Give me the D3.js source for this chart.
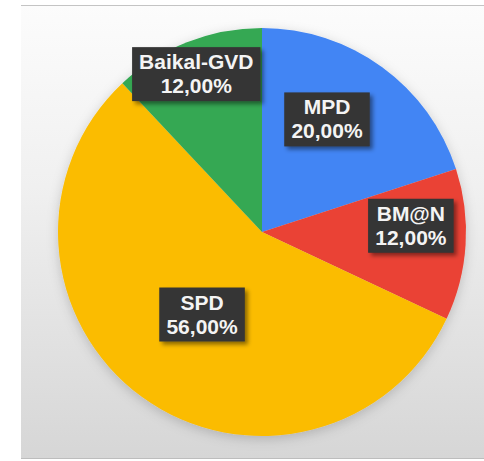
<!DOCTYPE html>
<html>
<head>
<meta charset="utf-8">
<script src="https://cdn.jsdelivr.net/npm/d3@7"></script>
<style>
  html, body { margin: 0; padding: 0; background: #fff; }
  svg { display: block; }
</style>
</head>
<body>
<svg id="chart"></svg>
<script>
// data
var categories = ["MPD", "BM@N", "SPD", "Baikal-GVD"];
var shares = [20, 12, 56, 12];
var colors = ["#4285f4", "#ea4335", "#fbbc04", "#34a853"];

// label placement (layout only): distance from centre and angle nudge in degrees
var labelRadius = [130, 149, 102, 171];
var labelNudge = [-6, -6, 0, -1];

var width = 484, height = 461;
var cx = 262, cy = 232, R = 204;

var svg = d3.select('#chart').attr('width', width).attr('height', height);
var defs = svg.append('defs');

var bg = defs.append('linearGradient').attr('id', 'bg')
    .attr('x1', 0).attr('y1', 0).attr('x2', 0).attr('y2', 1);
bg.append('stop').attr('offset', '0%').attr('stop-color', '#fcfcfc');
bg.append('stop').attr('offset', '40%').attr('stop-color', '#f0f0f0');
bg.append('stop').attr('offset', '100%').attr('stop-color', '#d6d6d6');

var pieShadow = defs.append('filter').attr('id', 'pieShadow')
    .attr('x', '-20%').attr('y', '-20%').attr('width', '140%').attr('height', '140%');
pieShadow.append('feDropShadow').attr('dx', 0).attr('dy', 3)
    .attr('stdDeviation', 6).attr('flood-color', '#000').attr('flood-opacity', 0.18);

var boxShadow = defs.append('filter').attr('id', 'boxShadow')
    .attr('x', '-20%').attr('y', '-20%').attr('width', '150%').attr('height', '150%');
boxShadow.append('feDropShadow').attr('dx', 3).attr('dy', 3)
    .attr('stdDeviation', 2).attr('flood-color', '#000').attr('flood-opacity', 0.45);

// panel
svg.append('rect').attr('x', 21).attr('y', 5).attr('width', width - 21).attr('height', 454)
    .attr('fill', 'url(#bg)');
svg.append('line').attr('x1', 21).attr('x2', width).attr('y1', 5.5).attr('y2', 5.5)
    .attr('stroke', '#c4c4c4').attr('stroke-width', 1);
svg.append('line').attr('x1', 21).attr('x2', width).attr('y1', 458.5).attr('y2', 458.5)
    .attr('stroke', '#bdbdbd').attr('stroke-width', 1);

var pie = d3.pie().sort(null).value(function(d) { return d; });
var arcs = pie(shares);
var arc = d3.arc().innerRadius(0).outerRadius(R);

var g = svg.append('g').attr('transform', 'translate(' + cx + ',' + cy + ')');

g.append('g').attr('filter', 'url(#pieShadow)')
    .selectAll('path')
    .data(arcs)
    .enter().append('path')
    .attr('d', arc)
    .attr('fill', function(d, i) { return colors[i]; });

var fmt = function(v) { return v.toFixed(2).replace('.', ',') + '%'; };

var labels = g.selectAll('g.lbl')
    .data(arcs)
    .enter().append('g')
    .attr('class', 'lbl')
    .attr('transform', function(d, i) {
        var a = (d.startAngle + d.endAngle) / 2 + labelNudge[i] * Math.PI / 180;
        var r = labelRadius[i];
        return 'translate(' + (r * Math.sin(a)) + ',' + (-r * Math.cos(a)) + ')';
    });

labels.each(function(d, i) {
    var lg = d3.select(this);
    var rect = lg.append('rect').attr('fill', '#343434').attr('filter', 'url(#boxShadow)');
    var t = lg.append('text')
        .attr('text-anchor', 'middle')
        .attr('font-family', 'Liberation Sans, Arial, sans-serif')
        .attr('font-weight', 'bold')
        .attr('font-size', 21)
        .attr('fill', '#f4f4f4');
    t.append('tspan').attr('x', 0).attr('y', -5).text(categories[i]);
    t.append('tspan').attr('x', 0).attr('y', 19).text(fmt(shares[i]));
    var bb = t.node().getBBox();
    var w = bb.width + 14;
    rect.attr('x', -w / 2).attr('y', -27).attr('width', w).attr('height', 54);
});
</script>
</body>
</html>
